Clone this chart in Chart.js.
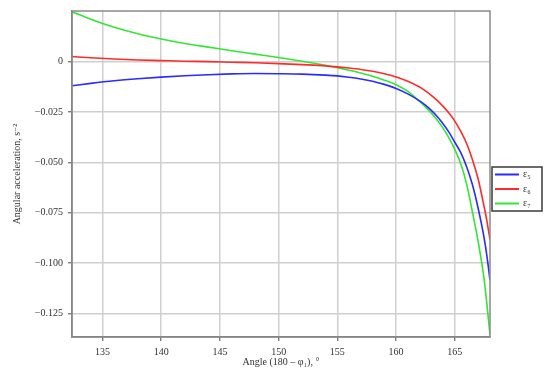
<!DOCTYPE html>
<html>
<head>
<meta charset="utf-8">
<script src="https://cdn.jsdelivr.net/npm/chart.js@4/dist/chart.umd.min.js"></script>
<style>
  html, body { margin: 0; padding: 0; background: #fff; }
  #wrap { width: 550px; height: 376px; }
</style>
</head>
<body>
<div id="wrap"><canvas id="accChart" width="550" height="376"></canvas></div>
<script>
// angle (180 - phi1), degrees
const angles = [132.4, 134, 136, 138, 140, 142, 144, 146, 148, 150, 152, 154, 155, 156, 157, 158, 159, 160,
  161, 162, 162.5, 163, 163.5, 164, 164.5, 165, 165.5, 166, 166.5, 167, 167.5, 167.75, 168];

// angular accelerations, s^-2
const eps5 = [-0.0120, -0.0108, -0.0095, -0.0085, -0.0077, -0.0070, -0.0065, -0.0061, -0.0059, -0.0060, -0.0062, -0.0067, -0.0071, -0.0078, -0.0086, -0.0097, -0.0113, -0.0133,
  -0.0160, -0.0195, -0.0216, -0.0242, -0.0272, -0.0308, -0.0350, -0.0400, -0.0450, -0.0520, -0.0610, -0.0730, -0.0875, -0.0970, -0.1085];
const eps6 = [0.0025, 0.0019, 0.0013, 0.0008, 0.0005, 0.0002, 0.0000, -0.0003, -0.0006, -0.0010, -0.0015, -0.0021, -0.0026, -0.0032, -0.0039, -0.0048, -0.0060, -0.0076,
  -0.0097, -0.0126, -0.0145, -0.0167, -0.0192, -0.0222, -0.0255, -0.0295, -0.0345, -0.0405, -0.0485, -0.0585, -0.0720, -0.0795, -0.0884];
const eps7 = [0.0247, 0.0210, 0.0170, 0.0138, 0.0112, 0.0090, 0.0072, 0.0054, 0.0037, 0.0020, 0.0002, -0.0018, -0.0030, -0.0043, -0.0057, -0.0073, -0.0092, -0.0115,
  -0.0148, -0.0197, -0.0225, -0.0255, -0.0290, -0.0330, -0.0378, -0.0435, -0.0505, -0.0605, -0.0745, -0.0895, -0.1080, -0.1210, -0.1356];

const seriesLabels = ["ε₅", "ε₆", "ε₇"];
const seriesColors = ["#2b2bff", "#ff2b2b", "#33e633"];
const xTicks = [135, 140, 145, 150, 155, 160, 165];
const yTicks = [-0.125, -0.100, -0.075, -0.050, -0.025, 0];

const serif = "'Liberation Serif', 'DejaVu Serif', serif";

function toPoints(ys) {
  return angles.map((a, i) => ({ x: a, y: ys[i] }));
}

// frame around plot + boxed legend on the right
const framePlugin = {
  id: "frame",
  afterDraw(chart) {
    const ctx = chart.ctx;
    const a = chart.chartArea;
    ctx.save();
    ctx.strokeStyle = "#8a8a8a";
    ctx.lineWidth = 1.5;
    ctx.strokeRect(a.left, a.top, a.right - a.left, a.bottom - a.top);

    // legend
    const bx = a.right + 2, by = 167, bw = 50, bh = 44;
    ctx.fillStyle = "#fff";
    ctx.fillRect(bx, by, bw, bh);
    ctx.strokeStyle = "#3a3a3a";
    ctx.lineWidth = 1.5;
    ctx.strokeRect(bx, by, bw, bh);
    ctx.font = "10px " + serif;
    ctx.textBaseline = "middle";
    ctx.textAlign = "left";
    chart.data.datasets.forEach((ds, i) => {
      const y = by + 7.5 + i * 14.5;
      ctx.strokeStyle = ds.borderColor;
      ctx.lineWidth = 2;
      ctx.beginPath();
      ctx.moveTo(bx + 3, y);
      ctx.lineTo(bx + 27, y);
      ctx.stroke();
      ctx.fillStyle = "#333";
      ctx.fillText(ds.label, bx + 31, y);
    });
    ctx.restore();
  }
};

const ctx = document.getElementById("accChart").getContext("2d");

new Chart(ctx, {
  type: "line",
  data: {
    datasets: [eps5, eps6, eps7].map((ys, i) => ({
      label: seriesLabels[i],
      data: toPoints(ys),
      borderColor: seriesColors[i],
      backgroundColor: seriesColors[i],
      borderWidth: 1.6,
      pointRadius: 0,
      fill: false,
      cubicInterpolationMode: "monotone"
    }))
  },
  options: {
    responsive: false,
    animation: false,
    devicePixelRatio: 1,
    layout: { padding: { top: 9, right: 60, left: 0, bottom: 0 } },
    plugins: {
      legend: { display: false },
      tooltip: { enabled: false }
    },
    scales: {
      x: {
        type: "linear",
        min: 132.4,
        max: 168.0,
        afterBuildTicks: s => { s.ticks = xTicks.map(v => ({ value: v })); },
        afterFit: s => { s.height = 39; },
        grid: { color: "#cfcfcf", lineWidth: 1.5, tickColor: "#666", tickLength: 4, tickWidth: 1.2 },
        border: { color: "#7a7a7a", width: 1.5 },
        ticks: { color: "#333", font: { family: serif, size: 10 }, padding: 5, maxRotation: 0 },
        title: {
          display: true,
          text: "Angle (180 – φ₁), °",
          color: "#333",
          font: { family: serif, size: 10 },
          padding: { top: 8, bottom: 8 }
        }
      },
      y: {
        type: "linear",
        min: -0.1366,
        max: 0.0251,
        afterBuildTicks: s => { s.ticks = yTicks.map(v => ({ value: v })); },
        afterFit: s => { s.width = 72; },
        grid: { color: "#cfcfcf", lineWidth: 1.5, tickColor: "#666", tickLength: 4, tickWidth: 1.2 },
        border: { color: "#7a7a7a", width: 1.5 },
        ticks: {
          color: "#333",
          font: { family: serif, size: 10 },
          padding: 5,
          callback: v => v === 0 ? "0" : "−" + Math.abs(v).toFixed(3)
        },
        title: {
          display: true,
          text: "Angular acceleration, s⁻²",
          color: "#333",
          font: { family: serif, size: 10 },
          padding: { top: 11, bottom: 11 }
        }
      }
    }
  },
  plugins: [framePlugin]
});
</script>
</body>
</html>
